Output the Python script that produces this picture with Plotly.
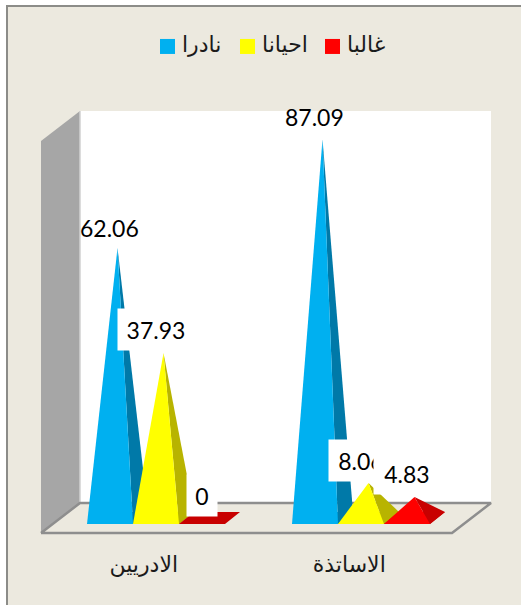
import plotly.graph_objects as go

# Survey shares (percent) per respondent group
CATEGORIES = ["الادريين", "الاساتذة"]
SERIES_NAMES = ["نادرا", "احيانا", "غالبا"]
NADIRAN = [62.06, 87.09]
AHYANAN = [37.93, 8.06]
GHALIBAN = [0, 4.83]
SERIES_VALUES = [NADIRAN, AHYANAN, GHALIBAN]

FRONT_COLORS = ["#00B0F0", "#FFFF00", "#FF0000"]
SIDE_COLORS = ["#0079A8", "#B8B400", "#C80000"]

WIDTH, HEIGHT = 521, 605

# Axis scale: one category step and the value range span the whole page
X_RANGE = [-0.4244, 2.1171]
Y_RANGE = [-20.0, 119.08]

# Pyramid footprint, in axis units
SLOT = 0.2244
DEPTH_X = 0.0732
DEPTH_V = 2.76

# Oblique box that holds the plot, in axis units
FLOOR_LEFT = -0.2244
FLOOR_RIGHT = 1.7805
BOX_DX = 0.1902
BOX_DV = 6.9
FLOOR_FRONT = -3.45
WALL_TOP = 93.56

# Where each value label sits relative to its apex: (value offset, box width)
LABEL_DX = -0.039
LABEL_LAYOUT = [
    [(4.6, None), (5.0, None)],
    [(5.3, 76), (5.2, 64)],
    [(5.2, 30), (5.3, 66)],
]

# Legend row position
LEGEND_X = [0.3927, 0.783, 1.1976]
LEGEND_TEXT_GAP = 0.0707
LEGEND_V = 108.4

fig = go.Figure()


def polygon(xs, ys, color, line_color=None, line_width=0):
    fig.add_trace(go.Scatter(
        x=xs + xs[:1], y=ys + ys[:1], mode="lines", fill="toself", fillcolor=color,
        line=dict(color=line_color or color, width=line_width),
        hoverinfo="skip", showlegend=False,
    ))


def segment(xs, ys, color, width):
    fig.add_trace(go.Scatter(
        x=xs, y=ys, mode="lines", line=dict(color=color, width=width),
        hoverinfo="skip", showlegend=False,
    ))


# Back wall, side wall and floor edges
back_left = FLOOR_LEFT + BOX_DX
back_right = FLOOR_RIGHT + BOX_DX
floor_back = FLOOR_FRONT + BOX_DV
polygon([back_left, back_right, back_right, back_left],
        [floor_back, floor_back, WALL_TOP, WALL_TOP], "#FFFFFF")
polygon([FLOOR_LEFT, back_left, back_left, FLOOR_LEFT],
        [FLOOR_FRONT, floor_back, WALL_TOP, WALL_TOP - BOX_DV], "#A6A6A6")
segment([back_left, back_left], [floor_back, WALL_TOP], "#D0D0D0", 1.5)
segment([FLOOR_LEFT, back_left, back_right, FLOOR_RIGHT, FLOOR_LEFT],
        [FLOOR_FRONT, floor_back, floor_back, FLOOR_FRONT, FLOOR_FRONT], "#8E8E8E", 2.5)

# Pyramids: base, then the right-hand face, then the front face
annotations = []
front_v = -DEPTH_V / 2
back_v = DEPTH_V / 2
for s, values in enumerate(SERIES_VALUES):
    for c, value in enumerate(values):
        left = c + s * SLOT
        right = left + SLOT
        apex_x = left + SLOT / 2 + DEPTH_X / 2
        polygon([left, right, right + DEPTH_X, left + DEPTH_X],
                [front_v, front_v, back_v, back_v], SIDE_COLORS[s])
        if value > 0:
            polygon([right, right + DEPTH_X, apex_x], [front_v, back_v, value], SIDE_COLORS[s])
            polygon([left, right, apex_x], [front_v, front_v, value], FRONT_COLORS[s])

# Value labels stack in reading order, so later boxes cover earlier ones
for s, values in enumerate(SERIES_VALUES):
    for c, value in enumerate(values):
        apex_x = c + s * SLOT + SLOT / 2 + DEPTH_X / 2
        offset, box_width = LABEL_LAYOUT[s][c]
        label = dict(
            x=apex_x + LABEL_DX, y=value + offset, xref="x", yref="y",
            text=f"{value:g}", showarrow=False, xanchor="center", yanchor="middle",
            font=dict(family="Lato, Carlito, sans-serif", size=23, color="#000000"),
        )
        if box_width:
            label.update(bgcolor="#FFFFFF", width=box_width, height=41, borderpad=0, align="center")
        annotations.append(label)

# Legend row: a square and its name for each series
for s, name in enumerate(SERIES_NAMES):
    fig.add_trace(go.Scatter(
        x=[LEGEND_X[s]], y=[LEGEND_V], mode="markers", name=name,
        marker=dict(symbol="square", size=15, color=FRONT_COLORS[s]),
        hoverinfo="name", showlegend=False,
    ))
    fig.add_trace(go.Scatter(
        x=[LEGEND_X[s] + LEGEND_TEXT_GAP], y=[LEGEND_V], mode="text",
        text=[name], textposition="middle right",
        textfont=dict(family="Liberation Sans, DejaVu Sans, sans-serif", size=22, color="#1A1A1A"),
        hoverinfo="skip", showlegend=False,
    ))

floor_span = FLOOR_RIGHT - FLOOR_LEFT
fig.update_layout(
    width=WIDTH, height=HEIGHT,
    margin=dict(l=0, r=0, t=0, b=0),
    paper_bgcolor="#FFFFFF", plot_bgcolor="rgba(0,0,0,0)",
    showlegend=False,
    annotations=annotations,
    font=dict(family="Liberation Sans, DejaVu Sans, sans-serif"),
    xaxis=dict(
        range=X_RANGE, showgrid=False, zeroline=False, showline=False, ticks="",
        tickmode="array",
        tickvals=[FLOOR_LEFT + (k + 0.5) * floor_span / len(CATEGORIES) for k in range(len(CATEGORIES))],
        ticktext=CATEGORIES,
        tickfont=dict(size=22, color="#1A1A1A"),
        anchor="free", position=1 - 549 / HEIGHT, fixedrange=True,
    ),
    yaxis=dict(range=Y_RANGE, visible=False, fixedrange=True),
    shapes=[
        dict(type="rect", xref="paper", yref="paper", layer="below",
             x0=6 / WIDTH, x1=1, y0=0, y1=1 - 5 / HEIGHT, fillcolor="#ECE9DF", line=dict(width=0)),
        dict(type="rect", xref="paper", yref="paper", layer="below",
             x0=6 / WIDTH, x1=8 / WIDTH, y0=0, y1=1 - 5 / HEIGHT, fillcolor="#8C8C88", line=dict(width=0)),
        dict(type="rect", xref="paper", yref="paper", layer="below",
             x0=6 / WIDTH, x1=1, y0=1 - 7 / HEIGHT, y1=1 - 5 / HEIGHT, fillcolor="#8C8C88", line=dict(width=0)),
    ],
)

fig.write_html("out.html", config={"displayModeBar": False})
